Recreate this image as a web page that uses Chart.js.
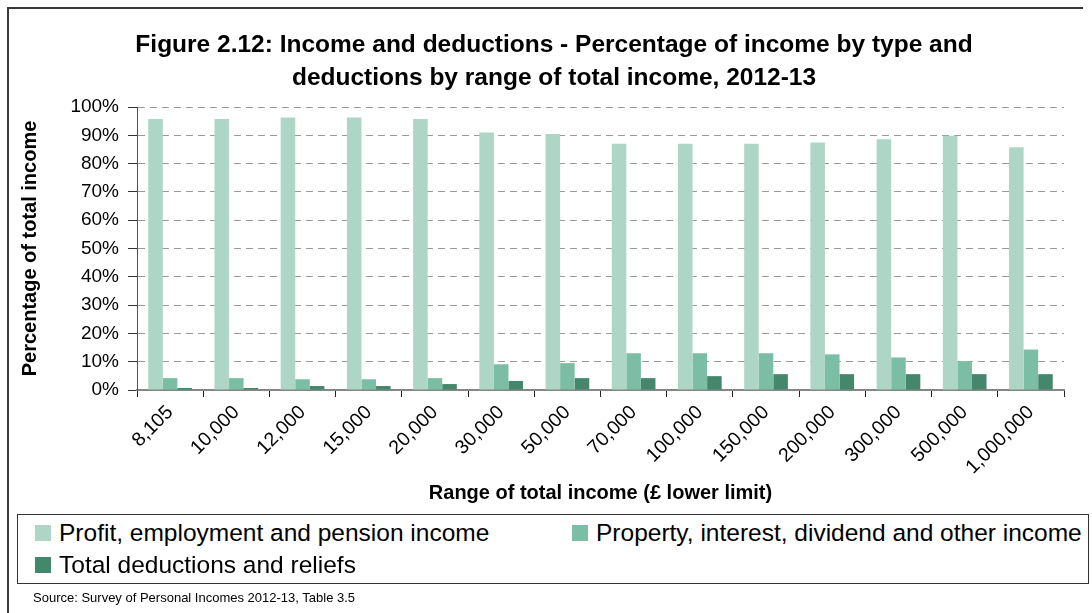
<!DOCTYPE html>
<html>
<head>
<meta charset="utf-8">
<script src="https://cdn.jsdelivr.net/npm/chart.js@4/dist/chart.umd.min.js"></script>
<style>
html,body{margin:0;padding:0;background:#fff;}
#wrap{position:relative;width:1092px;height:613px;overflow:hidden;font-family:"Liberation Sans",Arial,sans-serif;color:#000;}
#frame{position:absolute;left:7px;top:7px;width:1076px;height:640px;border-left:2px solid #3a3a3a;border-top:2px solid #3a3a3a;box-sizing:border-box;}
#chart{position:absolute;left:0;top:0;}
#legend{position:absolute;left:17px;top:514px;width:1072px;height:70px;box-sizing:border-box;border:1px solid #333;background:#fff;}
.li{position:absolute;height:24px;line-height:24px;font-size:24.5px;white-space:nowrap;}
.sw{position:absolute;width:16px;height:16px;top:4px;left:0;}
.tx{position:absolute;left:24px;top:0;}
#source{position:absolute;left:33px;top:590px;font-size:13px;line-height:15px;white-space:nowrap;}
</style>
</head>
<body>
<div id="wrap">
  <div id="frame"></div>
  <canvas id="chart" width="1092" height="613"></canvas>
  <div id="legend"></div>
  <div id="source">Source: Survey of Personal Incomes 2012-13, Table 3.5</div>
</div>
<script>
// ---- data ----
const categories = ['8,105','10,000','12,000','15,000','20,000','30,000','50,000','70,000','100,000','150,000','200,000','300,000','500,000','1,000,000'];
const profitEmploymentPension = [95.8, 95.8, 96.3, 96.3, 95.8, 91.0, 90.5, 87.0, 87.0, 87.0, 87.5, 88.6, 89.8, 85.8];
const propertyInterestDividend = [4.2, 4.2, 3.8, 3.8, 4.2, 9.1, 9.5, 13.0, 13.0, 13.0, 12.6, 11.5, 10.2, 14.3];
const deductionsReliefs = [0.7, 0.7, 1.4, 1.4, 2.1, 3.2, 4.2, 4.2, 4.9, 5.6, 5.6, 5.6, 5.6, 5.6];
const seriesLabels = ['Profit, employment and pension income', 'Property, interest, dividend and other income', 'Total deductions and reliefs'];
const seriesColors = ['#aed6c6', '#7cbea5', '#44876c'];
const titleLines = ['Figure 2.12: Income and deductions - Percentage of income by type and', 'deductions by range of total income, 2012-13'];
const yAxisTitle = 'Percentage of total income';
const xAxisTitle = 'Range of total income (\u00a3 lower limit)';

Chart.defaults.font.family = '"Liberation Sans", Arial, sans-serif';
Chart.defaults.color = '#000';

const seriesValues = [profitEmploymentPension, propertyInterestDividend, deductionsReliefs];

const chart = new Chart(document.getElementById('chart'), {
  type: 'bar',
  data: {
    labels: categories,
    datasets: seriesValues.map((vals, i) => ({
      label: seriesLabels[i],
      data: vals,
      backgroundColor: seriesColors[i],
      borderWidth: 0,
      categoryPercentage: 0.66,
      barPercentage: 1.0
    }))
  },
  options: {
    responsive: false,
    animation: false,
    layout: { padding: { left: 44, right: 28, top: 0, bottom: 103 } },
    plugins: {
      legend: { display: false },
      tooltip: { enabled: false },
      title: {
        display: true,
        text: titleLines,
        color: '#000',
        font: { size: 24.5, weight: 'bold', lineHeight: 1.347 },
        padding: { top: 28.5, bottom: 12.5 }
      }
    },
    scales: {
      x: {
        grid: { offset: true, drawOnChartArea: false, drawTicks: true, tickLength: 7, tickColor: '#222', tickWidth: 1 },
        border: { display: true, color: '#868686', width: 2 },
        ticks: { autoSkip: false, minRotation: 45, maxRotation: 45, color: '#000', font: { size: 19.5 }, padding: 4 },
        title: { display: true, text: xAxisTitle, color: '#000', font: { size: 20, weight: 'bold' }, padding: { top: 0, bottom: 5 } },
        afterFit(s) { s.height = 120; }
      },
      y: {
        min: 0, max: 100,
        ticks: { stepSize: 10, callback: v => v + '%', color: '#000', font: { size: 19 }, padding: 9 },
        grid: { color: '#9a9a9a', lineWidth: 1, drawTicks: true, tickLength: 9, tickColor: '#333', tickWidth: 1, tickBorderDash: [] },
        border: { display: true, color: '#555', width: 1, dash: [7, 5] },
        title: { display: true, text: yAxisTitle, color: '#000', font: { size: 20, weight: 'bold' }, padding: { top: -26, bottom: 0 } },
        afterFit(s) { s.width = 93; }
      }
    }
  }
});

// ---- legend built from the chart's datasets ----
const legendPos = [ {left: 17, top: 6}, {left: 554, top: 6}, {left: 17, top: 38} ];
const legendEl = document.getElementById('legend');
chart.data.datasets.forEach((ds, i) => {
  const item = document.createElement('div');
  item.className = 'li';
  item.style.left = legendPos[i].left + 'px';
  item.style.top = legendPos[i].top + 'px';
  const sw = document.createElement('span');
  sw.className = 'sw';
  sw.style.background = ds.backgroundColor;
  const tx = document.createElement('span');
  tx.className = 'tx';
  tx.textContent = ds.label;
  item.appendChild(sw);
  item.appendChild(tx);
  legendEl.appendChild(item);
});
</script>
</body>
</html>
